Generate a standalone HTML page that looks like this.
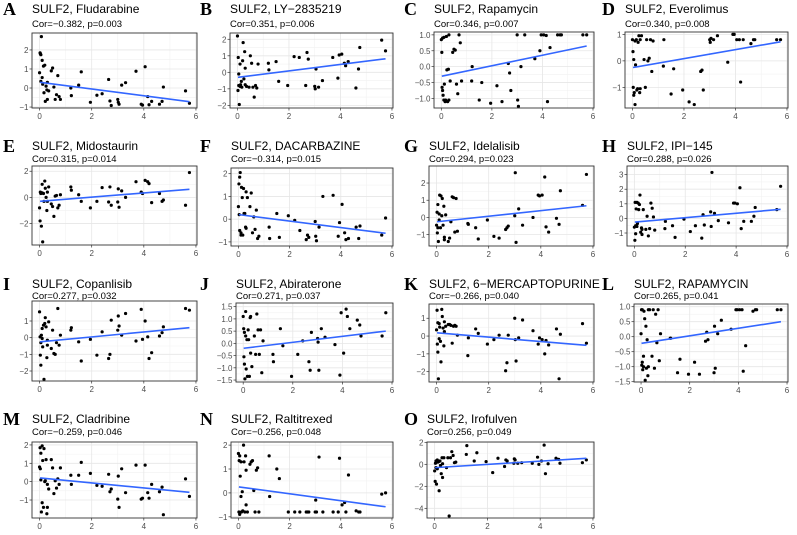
<!DOCTYPE html>
<html><head><meta charset="utf-8">
<style>
html,body{margin:0;padding:0;background:#fff;}
svg{display:block;font-family:"Liberation Sans",Arial,sans-serif;}
</style></head>
<body>
<svg id="chart" width="797" height="535" viewBox="0 0 797 535" xmlns="http://www.w3.org/2000/svg"></svg>
<script>
// shared SULF2 expression values (x)
const sulf2X = [0.00,0.02,0.03,0.05,0.05,0.07,0.10,0.10,0.12,0.15,0.17,0.20,0.22,0.25,0.28,0.30,0.30,0.35,0.45,0.50,0.55,0.60,0.65,0.70,0.75,0.80,
1.20,1.22,1.50,1.60,1.95,2.20,2.40,2.65,2.70,2.75,3.00,3.02,3.05,3.15,3.30,3.70,3.90,3.95,4.05,4.15,4.20,4.30,4.60,4.70,4.75,5.60,5.75];
const drugLetters = ["A","B","C","D","E","F","G","H","I","J","K","L","M","N","O"];
const drugNames = ["Fludarabine","LY−2835219","Rapamycin","Everolimus","Midostaurin","DACARBAZINE","Idelalisib","IPI−145","Copanlisib","Abiraterone","6−MERCAPTOPURINE","RAPAMYCIN","Cladribine","Raltitrexed","Irofulven"];
const corValues = ["−0.382","0.351","0.346","0.340","0.315","−0.314","0.294","0.288","0.277","0.271","−0.266","0.265","−0.259","−0.256","0.256"];
const pValues = ["0.003","0.006","0.007","0.008","0.014","0.015","0.023","0.026","0.032","0.037","0.040","0.041","0.046","0.048","0.049"];
// fitted line values at x=0 and x=5.75
const fitStart = [0.3,-0.3,-0.3,-0.25,-0.3,0.2,-0.25,-0.25,-0.25,-0.2,0.18,-0.22,0.2,0.25,-0.3];
const fitEnd = [-0.72,0.82,0.65,0.72,0.62,-0.62,0.68,0.62,0.6,0.5,-0.52,0.5,-0.58,-0.58,0.55];
// y tick values
const yTicks = [[-1,0,1,2],[-2,-1,0,1,2],[-1,-0.5,0,0.5,1],[-1,0,1],[-2,0,2],[-1,0,1,2],[-1,0,1,2],[-1,0,1,2,3],[-2,-1,0,1],[-1.5,-1,-0.5,0,0.5,1,1.5],[-2,-1,0,1],[-1.5,-1,-0.5,0,0.5,1],[-1,0,1,2],[-1,0,1,2],[-4,-2,0,2]];
const yDecimals = [0,0,1,0,0,0,0,0,0,1,0,1,0,0,0];
const xTicks = [0,2,4,6];
// drug sensitivity values (y), one array per panel
const yA = [0.8,1.85,1.8,1.75,0.35,2.7,1.45,0.55,0.2,1.15,-0.25,1.2,-0.7,0.1,-0.1,0.3,-0.6,-0.15,0.9,1.05,0.05,-0.6,-0.35,0.65,-0.45,-0.6, 0,-0.4,0.15,0.85,-0.75,-0.38,-0.3,0.45,-0.68,-0.92,-0.6,-0.75,-0.85,0.15,0.28,0.88,-0.85,-0.9,1.12,-0.45,-0.88,-0.7,-0.85,-0.7,0.05,-0.15,-0.8];
const yB = [2.2,-1.1,0.9,-0.1,-0.8,-1.95,-0.85,0.5,-0.75,-0.55,-0.9,0.7,1.8,-0.4,1.25,-0.75,0.25,-0.85,-0.9,1.0,0.55,-0.9,-1.5,-0.8,-0.95,0.5, 0.55,0.15,0.65,-0.55,-0.8,0.95,0.9,-0.8,1.2,0.8,-0.85,-1.0,0.2,-0.9,-0.5,0.9,-0.35,1.05,1.1,0.55,0.4,0.65,-0.95,0.2,1.5,1.95,1.3];
const yC = [0.85,0.45,-0.65,-0.75,0.9,-0.9,-1.05,0.92,-0.55,-1.1,-1.05,0.95,-0.1,-1.1,-0.08,1.0,-1.05,-0.45,0.45,0.55,0.52,-0.55,-0.85,1.0,0.75,-0.45, -0.45,0,-1.05,-0.5,-1.15,-0.6,-1.1,0.1,-0.2,-0.75,1.0,-1.05,-1.25,0,1.0,0.25,0.5,1.0,1.0,0.98,-1.1,0.6,1.0,1.0,1.0,1.0,1.0];
const yD = [0.8,0.35,-1.0,0.05,-1.3,-1.2,-1.65,0.75,-0.15,0.8,-1.1,-1.05,0.7,0.95,-1.2,0.8,-1.05,0.95,0.05,-1.0,0.8,0.0,0.1,0.8,-0.4,0.75, -0.2,0.8,-1.25,-0.3,-1.1,-1.55,-1.65,-0.4,-0.35,-1.1,0.8,0.7,0.85,0.8,0.95,-0.05,1.0,1.0,0.8,0.8,-0.8,0.8,0.65,0.8,0.8,0.8,0.8];
const yE = [-0.8,-1.8,0.4,0.3,0.35,-2.2,1.0,0.35,-3.4,0.3,-0.3,1.25,0.7,0.0,-1.0,0.4,-0.3,0.8,-0.5,-0.7,-1.45,0.1,0.15,-0.8,-0.6,0.2, 0.8,0.55,0.2,-0.3,-0.8,-0.3,0.75,-0.35,0.8,-0.6,-0.35,0.65,-0.75,0.5,0.0,1.2,0.4,0.3,1.3,1.2,1.05,-0.4,0.3,-0.3,-0.2,-0.6,1.9];
const yF = [0.55,1.55,0.2,-0.5,1.85,2.05,-0.7,-0.6,1.4,0.95,-0.7,1.35,0.25,0.25,-0.35,1.2,-0.4,0.95,0.55,1.15,-0.6,0.1,-0.45,0.4,-0.85,-0.75, -0.35,-0.85,0.25,-0.8,0.15,-0.05,-0.5,-0.9,-0.7,-0.8,-0.1,-0.75,-0.95,-0.35,1.0,1.05,-0.75,-0.15,0.65,-0.6,-0.9,-0.85,-0.35,-0.85,-0.3,-0.7,0.05];
const yG = [-0.45,0.3,-0.9,0.75,-0.6,-1.4,0.2,-0.15,1.3,-0.6,1.25,0.1,1.1,-0.45,0.65,-1.15,-1.3,0.15,-1.4,-1.2,-0.25,1.2,1.15,-0.85,1.1,-0.8, -0.35,-0.4,-0.6,-1.25,-0.15,-1.1,-1.2,-0.7,-0.6,-0.5,0.1,2.6,-1.45,0.5,-0.45,0,1.3,1.25,1.3,2.35,-0.55,-0.85,-0.05,-0.4,1.55,0.7,2.5];
const yH = [-0.6,-1.5,1.1,-0.5,-1.05,0.65,1.1,-0.55,-0.35,1.05,0.6,0.95,1.6,-0.95,-0.65,-1.1,-0.75,0.6,-0.75,0.15,-1.2,-0.7,1.05,0.7,0.1,-0.8, -0.7,-0.2,-0.5,-1.3,-0.05,-0.9,-0.5,-1.35,0.25,-0.45,0.45,-0.55,3.15,0.35,-0.15,-0.3,1.05,1.05,1.0,2.1,-0.7,-0.2,-0.2,0.15,0.75,0.6,2.2];
const yI = [1.55,0.05,-1.05,-0.3,-1.65,0.15,-0.05,0.55,-0.55,0.75,-2.5,0.85,1.2,0.65,-1.2,-0.15,-0.45,0.95,-0.65,0.45,-0.95,-1.0,-0.3,1.75,-0.45,0.15, 0.45,0.6,-0.25,-1.4,-0.1,-1.05,0.35,-1.25,-1.0,1.05,0.45,1.3,0.7,0.15,1.45,-0.2,1.7,-0.1,1.0,0.05,-1.25,-0.9,0.1,0.3,0.65,1.75,1.65];
const yJ = [1.1,0.6,-0.55,-0.85,0.45,-1.45,0.3,1.3,-1.05,0.15,-1.35,0.55,0.15,-1.35,1.05,-0.4,1.1,-0.95,0.3,-0.45,1.2,0.55,-0.45,0.55,-1.2,0.1, -0.45,-0.75,0.6,-0.1,-1.35,-0.45,0.1,-0.75,-1.1,0.45,0.2,0.05,-1.1,0.6,0.25,-0.05,-1.3,1.25,-0.4,1.4,1.1,0.6,0.95,0.75,0.3,0.3,1.25];
const yK = [0.35,1.45,-0.45,0.75,-0.9,-2.4,0.7,-0.15,0.5,-0.3,-1.45,1.5,1.1,0.45,-0.55,0.8,0.25,0.55,0.65,0.65,0.6,-0.4,0.55,0.6,0.55,0.05, -1.1,-0.1,0.4,0.15,-0.45,-0.2,0.05,-1.95,-1.5,0.05,1.0,-0.2,-1.4,-0.1,0.9,0.3,-0.45,-0.1,-0.2,-1.0,-0.25,-0.5,0.4,-2.4,0.1,0.7,-0.4];
const yL = [0.1,0.9,-0.95,-0.85,0.9,-1.1,-0.65,-1.0,0.85,0.6,-1.45,0.35,-1.05,-0.1,-1.3,0.9,-1.0,0.9,-0.65,0.9,-1.05,0.75,-0.2,0.9,-0.8,0.1, -0.05,-0.05,-1.2,-0.75,-1.25,-0.85,-1.25,-0.15,0.15,-0.1,-1.2,0.35,-1.05,0.1,0.55,0.25,0.9,0.9,0.9,0.9,-1.15,-0.3,0.85,0.9,0.9,0.9,0.9];
const yM = [0.8,1.85,0.7,0.1,1.55,-1.65,1.95,-1.15,1.15,-1.4,1.8,0.0,0.05,1.2,-1.75,-1.4,-0.15,-0.4,1.2,0.75,-0.65,0.05,-0.35,0.15,-0.15,0.75, 0.35,-0.15,0.35,1.05,0.45,-0.2,-0.25,0.4,-0.55,-0.4,-0.95,0.3,-1.4,0.7,-0.6,0.9,-0.95,-0.9,0.9,-0.6,-0.9,-0.15,-0.55,-0.3,-1.8,0.15,-0.8];
const yN = [1.65,-0.8,1.35,-0.9,1.55,0.7,1.3,-0.15,-0.8,0.05,-0.75,2.0,1.3,-0.8,1.55,-0.5,0.95,-0.8,1.2,1.3,1.35,0.1,-0.8,0.95,1.05,-0.8, 1.55,-0.15,1.0,0.6,-0.8,-0.8,-0.8,-0.8,-0.8,-0.8,-0.8,-0.3,-0.8,1.5,-0.8,-0.8,-0.8,1.45,-0.5,-0.4,-0.8,0.75,-0.75,-0.8,-0.8,-0.05,0.0];
const yO = [-0.6,-1.55,0.1,0.3,-0.3,-1.8,0.4,-0.4,0.2,0.25,-2.4,0.3,-0.1,-0.85,0.6,-1.2,0.05,0.6,-0.3,0.6,-4.7,0.6,1.15,0.8,0.15,0.2, 0.9,1.7,0.3,1.05,0.25,-0.75,0.55,-0.2,0.4,0.3,0.1,0.5,0.4,0.1,0.15,0.1,0.65,0.0,0.3,1.75,-0.85,0.05,0.55,0.45,0.1,0.15,0.4];
const panelY = [yA,yB,yC,yD,yE,yF,yG,yH,yI,yJ,yK,yL,yM,yN,yO];

// layout (pixel geometry, not data)
const colLetterX = [3,200,404,602];
const rowTitleBase = [13,150,288,423];
const rowSubBase = [27,162,299,435];
const panelBox = [
 {l:32,r:197,t:33,b:108,y0:-1.05,y1:2.89},{l:230,r:393,t:33,b:108,y0:-2.16,y1:2.38},{l:434,r:594,t:32,b:108,y0:-1.3,y1:1.09},{l:625,r:788,t:32,b:108,y0:-1.78,y1:1.09},
 {l:32,r:197,t:166,b:245,y0:-3.64,y1:2.4},{l:231,r:393,t:168,b:246,y0:-1.18,y1:2.25},{l:429,r:594,t:166,b:246,y0:-1.66,y1:2.99},{l:627,r:788,t:166,b:246,y0:-1.89,y1:3.59},
 {l:32,r:197,t:301,b:381,y0:-2.6,y1:2.2},{l:236,r:393,t:303,b:382,y0:-1.58,y1:1.65},{l:429,r:594,t:304,b:382,y0:-2.58,y1:1.8},{l:634,r:788,t:304,b:382,y0:-1.51,y1:1.09},
 {l:32,r:197,t:442,b:518,y0:-1.98,y1:2.16},{l:231,r:393,t:442,b:518,y0:-1.05,y1:2.13},{l:427,r:594,t:442,b:518,y0:-4.88,y1:2.03}
];
const X0 = -0.29, X1 = 6.04;
const NS = "http://www.w3.org/2000/svg";
const svg = document.getElementById('chart');
function mk(tag, attrs, parent){const e=document.createElementNS(NS,tag);for(const k in attrs)e.setAttribute(k,attrs[k]);parent.appendChild(e);return e;}
function fmt(v,d){const s=Math.abs(v).toFixed(d);return (v<0?'−':'')+s;}

panelBox.forEach((pb,i)=>{
  const col=i%4,row=Math.floor(i/4);
  const g=mk('g',{},svg);
  
  
  const sx=v=>pb.l+(v-X0)/(X1-X0)*(pb.r-pb.l);
  const sy=v=>pb.b-(v-pb.y0)/(pb.y1-pb.y0)*(pb.b-pb.t);
  const letter=mk('text',{x:colLetterX[col],y:rowTitleBase[row]+2,'font-family':'"Liberation Serif",serif','font-weight':'bold','font-size':'18',fill:'#000'},g);
  letter.textContent=drugLetters[i];
  
  
  const tt=mk('text',{x:pb.l,y:rowTitleBase[row],'font-size':'12',fill:'#000'},g);
  tt.textContent='SULF2, '+drugNames[i];
  
  
  const st=mk('text',{x:pb.l,y:rowSubBase[row],'font-size':'9.5',fill:'#000'},g);
  st.textContent='Cor='+corValues[i]+', p='+pValues[i];
  
  
  mk('rect',{x:pb.l,y:pb.t,width:pb.r-pb.l,height:pb.b-pb.t,fill:'#fff'},g);
  const yt=yTicks[i];
  for(let k=0;k<yt.length-1;k++){const m=(yt[k]+yt[k+1])/2;mk('line',{x1:pb.l,x2:pb.r,y1:sy(m),y2:sy(m),stroke:'#f2f2f2','stroke-width':0.6},g);}
  [1,3,5].forEach(m=>mk('line',{x1:sx(m),x2:sx(m),y1:pb.t,y2:pb.b,stroke:'#f2f2f2','stroke-width':0.6},g));
  yt.forEach(v=>{
    mk('line',{x1:pb.l,x2:pb.r,y1:sy(v),y2:sy(v),stroke:'#e6e6e6','stroke-width':0.8},g);
    mk('line',{x1:pb.l-2.5,x2:pb.l,y1:sy(v),y2:sy(v),stroke:'#333','stroke-width':0.7},g);
    const lb=mk('text',{x:pb.l-3.5,y:sy(v)+3,'font-size':'8','text-anchor':'end',fill:'#4d4d4d'},g);
    lb.textContent=fmt(v,yDecimals[i]);
    
    
  });
  xTicks.forEach(v=>{
    mk('line',{x1:sx(v),x2:sx(v),y1:pb.t,y2:pb.b,stroke:'#e6e6e6','stroke-width':0.8},g);
    mk('line',{x1:sx(v),x2:sx(v),y1:pb.b,y2:pb.b+2.5,stroke:'#333','stroke-width':0.7},g);
    const lb=mk('text',{x:sx(v),y:pb.b+11,'font-size':'8','text-anchor':'middle',fill:'#4d4d4d'},g);
    lb.textContent=String(v);
    
    
  });
  const ys=panelY[i];
  sulf2X.forEach((xv,k)=>{
    const c=mk('circle',{cx:sx(xv),cy:sy(ys[k]),r:1.6,fill:'#000'},g);
    
    
  });
  const ln=mk('line',{x1:sx(0.02),y1:sy(fitStart[i]),x2:sx(5.75),y2:sy(fitEnd[i]),stroke:'#3366ff','stroke-width':1.6},g);
  
  
  mk('rect',{x:pb.l,y:pb.t,width:pb.r-pb.l,height:pb.b-pb.t,fill:'none',stroke:'#333','stroke-width':0.9},g);
});
</script>
</body></html>
